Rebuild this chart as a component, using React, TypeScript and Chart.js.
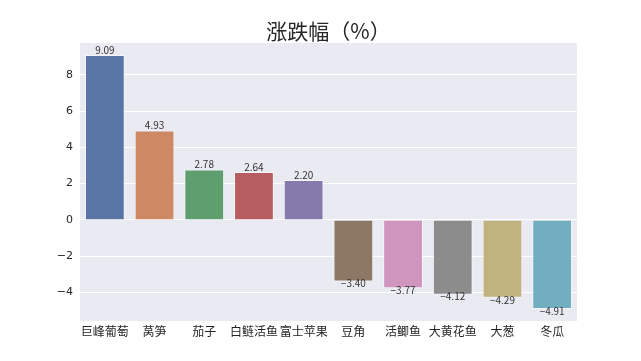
import React, { useEffect, useRef } from "react";
import { Chart, registerables } from "chart.js";

Chart.register(...registerables);

const categories = ["巨峰葡萄", "莴笋", "茄子", "白鲢活鱼", "富士苹果", "豆角", "活鲫鱼", "大黄花鱼", "大葱", "冬瓜"];
const values = [9.09, 4.93, 2.78, 2.64, 2.2, -3.4, -3.77, -4.12, -4.29, -4.91];
const yTicks = [-4, -2, 0, 2, 4, 6, 8];
const colors = ["#5975A4", "#CC8963", "#5F9E6E", "#B55D60", "#857AAB", "#8D7866", "#D095BF", "#8C8C8C", "#C1B37F", "#71AEC0"];
const title = "涨跌幅（%）";

const FONT = "'Noto Sans CJK SC', 'DejaVu Sans', sans-serif";

export default function App() {
  const ref = useRef<HTMLCanvasElement>(null);
  useEffect(() => {
    document.body.style.margin = "0";
    const bgPlugin = {
      id: "bg",
      beforeDraw(chart: any) {
        const { ctx, chartArea } = chart;
        ctx.save();
        ctx.fillStyle = "#ffffff";
        ctx.fillRect(0, 0, chart.width, chart.height);
        ctx.fillStyle = "#EAEAF2";
        ctx.fillRect(chartArea.left, chartArea.top, chartArea.right - chartArea.left, chartArea.bottom - chartArea.top);
        ctx.restore();
      },
      afterDraw(chart: any) {
        const { ctx, chartArea } = chart;
        ctx.save();
        ctx.fillStyle = "#262626";
        ctx.font = `21px ${FONT}`;
        ctx.textAlign = "center";
        ctx.textBaseline = "middle";
        ctx.fillText(title, (chartArea.left + chartArea.right) / 2, 31);
        const meta = chart.getDatasetMeta(0);
        ctx.font = `10px ${FONT}`;
        ctx.fillStyle = "#333333";
        meta.data.forEach((bar: any, i: number) => {
          const v = values[i];
          const txt = v.toFixed(2).replace("-", "−");
          ctx.textBaseline = "middle";
          if (v >= 0) {
            ctx.fillText(txt, bar.x, bar.y - 5);
          } else {
            ctx.fillText(txt, bar.x, bar.y + 2);
          }
        });
        ctx.restore();
      },
    };
    const chart = new Chart(ref.current!, {
      type: "bar",
      data: {
        labels: categories,
        datasets: [
          {
            data: values,
            backgroundColor: colors,
            borderColor: "rgba(255,255,255,0.5)",
            borderWidth: 1,
            categoryPercentage: 1,
            barPercentage: 0.8,
          },
        ],
      },
      options: {
        animation: false,
        responsive: false,
        layout: { padding: { top: 43, right: 64, left: 0, bottom: 0 } },
        plugins: { legend: { display: false }, tooltip: { enabled: false }, title: { display: false } },
        scales: {
          x: {
            grid: { display: false, drawTicks: false },
            border: { display: false },
            ticks: { color: "#262626", font: { family: FONT, size: 12 }, padding: 3, maxRotation: 0, autoSkip: false },
            afterFit(scale: any) {
              scale.height = 40;
            },
          },
          y: {
            min: -5.57,
            max: 9.75,
            grid: { color: "#ffffff", lineWidth: 1, drawTicks: false },
            border: { display: false },
            ticks: {
              color: "#262626",
              font: { family: "'DejaVu Sans', sans-serif", size: 11 },
              padding: 7,
              callback: (v: any) => String(v).replace("-", "−"),
            },
            afterBuildTicks(scale: any) {
              scale.ticks = yTicks.map((v) => ({ value: v }));
            },
            afterFit(scale: any) {
              scale.width = 80;
            },
          },
        },
      },
      plugins: [bgPlugin],
    });
    return () => chart.destroy();
  }, []);
  return (
    <div style={{ position: "absolute", left: 0, top: 0, width: 641, height: 361 }}>
      <canvas ref={ref} width={641} height={361} style={{ width: 641, height: 361 }} />
    </div>
  );
}
